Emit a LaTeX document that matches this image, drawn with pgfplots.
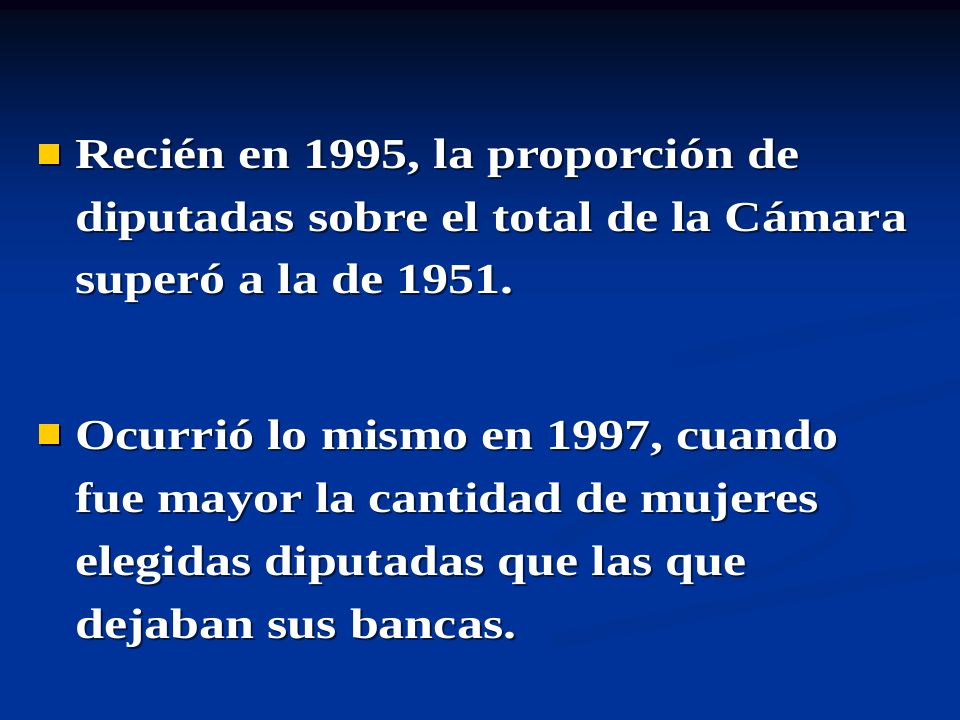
\documentclass[border=0pt]{standalone}
\usepackage{pgfplots}
\pgfplotsset{compat=1.18}
\usepackage{fontspec}
\setmainfont[FakeStretch=1.22]{Liberation Serif}
\definecolor{bgmain}{HTML}{003399}
\definecolor{bgA}{HTML}{002B83}
\definecolor{bgB}{HTML}{001D5C}
\definecolor{bgC}{HTML}{010F2D}
\definecolor{bgD}{HTML}{020A1C}
\definecolor{bgE}{HTML}{040018}
\definecolor{bulletc}{HTML}{FFCC00}
% path maps to 25bp..75bp of the shading
\pgfdeclareverticalshading{slidebg}{100bp}{
  color(0bp)=(bgmain);
  color(25bp)=(bgmain);
  color(54bp)=(bgmain);
  color(61bp)=(bgA);
  color(66.7bp)=(bgB);
  color(72.2bp)=(bgC);
  color(74.3bp)=(bgD);
  color(74.4bp)=(bgE);
  color(75bp)=(bgE);
  color(100bp)=(bgE)}
\newcommand{\slidefont}{\fontsize{32}{38}\selectfont\bfseries}
\newcommand{\slideline}[2]{%
  \node[anchor=base west, inner sep=0pt, text=black, opacity=0.55] at (axis cs:77,#1+2) {\slidefont #2};
  \node[anchor=base west, inner sep=0pt, text=white] at (axis cs:75,#1) {\slidefont #2};}
\newcommand{\slidebullet}[1]{%
  \fill[black!70!blue] (axis cs:41,#1+2) rectangle (axis cs:61,#1+22);
  \fill[bulletc] (axis cs:39,#1) rectangle (axis cs:59,#1+20);}
\begin{document}
\begin{tikzpicture}
\begin{axis}[
  width=720pt, height=540pt, scale only axis,
  xmin=0, xmax=960, ymin=0, ymax=720, y dir=reverse,
  hide axis, clip=false,
]
\addplot[draw=none] coordinates {(0,0) (960,720)};
\shade[shading=slidebg] (axis cs:0,0) rectangle (axis cs:960,720);
% decorative swirls (subtle)
\begin{scope}
\clip (axis cs:0,0) rectangle (axis cs:960,720);
\draw[line cap=round, line width=12pt, color=black, opacity=0.035] (axis cs:560,540) .. controls (axis cs:720,450) and (axis cs:880,400) .. (axis cs:990,380);
\draw[line cap=round, line width=9pt, color=black, opacity=0.04] (axis cs:700,440) .. controls (axis cs:930,470) and (axis cs:860,560) .. (axis cs:720,580);
\draw[line cap=round, line width=12pt, color=black, opacity=0.035] (axis cs:560,640) .. controls (axis cs:760,600) and (axis cs:900,575) .. (axis cs:990,560);
\draw[line cap=round, line width=14pt, color=black, opacity=0.03] (axis cs:680,360) .. controls (axis cs:820,330) and (axis cs:900,320) .. (axis cs:990,300);
\end{scope}
% bullets
\slidebullet{144}
\slidebullet{424}
% text lines
\slideline{169}{Recién en 1995, la proporción de}
\slideline{232}{diputadas sobre el total de la Cámara}
\slideline{294}{superó a la de 1951.}
\slideline{449}{Ocurrió lo mismo en 1997, cuando}
\slideline{512}{fue mayor la cantidad de mujeres}
\slideline{575}{elegidas diputadas que las que}
\slideline{638}{dejaban sus bancas.}
\end{axis}
\pgfresetboundingbox
\useasboundingbox (current axis.south west) rectangle (current axis.north east);
\end{tikzpicture}
\end{document}
